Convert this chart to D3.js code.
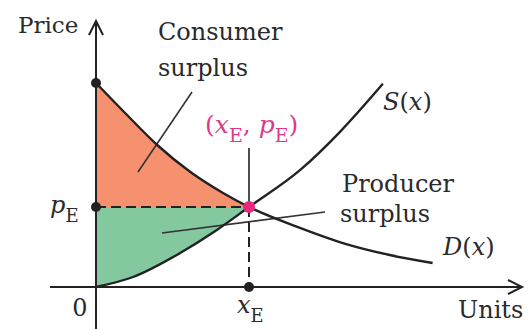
<!DOCTYPE html>
<html>
<head>
<meta charset="utf-8">
<script src="https://cdn.jsdelivr.net/npm/d3@7"></script>
<style>
  html, body { margin: 0; padding: 0; background: #fff; }
  svg { display: block; }
  text { font-family: "DejaVu Serif", "Liberation Serif", serif; fill: #2a2a2a; }
</style>
</head>
<body>
<svg id="chart" width="529" height="329"></svg>
<script>
// ---- data (economic units) ----
const demandX = [0, 1.9, 4.0, 6.15, 8.3, 10, 13.33, 16.3, 19.2, 22.0];
const demandY = [25.5, 21.75, 17.75, 14.4, 11.75, 10, 7.4, 5.4, 4.0, 3.0];
const supplyX = [0, 2.42, 5.5, 7.8, 10, 13.33, 15.95, 18.75];
const supplyY = [0, 1.25, 4.25, 7.0, 10, 14.6, 19.4, 25.4];
const equilibrium = { x: 10, p: 10 };
const axisLabels = { y: "Price", x: "Units", origin: "0" };

// ---- scales ----
const svg = d3.select("#chart");
const x = d3.scaleLinear().domain([0, 10]).range([96, 249]);
const y = d3.scaleLinear().domain([0, 10]).range([287, 207]);

const demand = demandX.map((d, i) => [d, demandY[i]]);
const supply = supplyX.map((d, i) => [d, supplyY[i]]);
const curve = d3.curveMonotoneX;

const demandLeft = demand.filter(d => d[0] <= equilibrium.x);
const supplyLeft = supply.filter(d => d[0] <= equilibrium.x);

svg.append("path")
  .attr("d", d3.area().x(d => x(d[0])).y0(y(equilibrium.p)).y1(d => y(d[1])).curve(curve)(demandLeft))
  .attr("fill", "#f5916e");
svg.append("path")
  .attr("d", d3.area().x(d => x(d[0])).y0(y(equilibrium.p)).y1(d => y(d[1])).curve(curve)(supplyLeft))
  .attr("fill", "#84c8a0");

// dashed guide lines
const dark = "#222";
svg.append("line")
  .attr("x1", x(0)).attr("x2", x(equilibrium.x))
  .attr("y1", y(equilibrium.p)).attr("y2", y(equilibrium.p))
  .attr("stroke", dark).attr("stroke-width", 2).attr("stroke-dasharray", "10,5");
svg.append("line")
  .attr("x1", x(equilibrium.x)).attr("x2", x(equilibrium.x))
  .attr("y1", y(equilibrium.p)).attr("y2", y(0))
  .attr("stroke", dark).attr("stroke-width", 2).attr("stroke-dasharray", "10,5");
svg.append("line")
  .attr("x1", x(equilibrium.x)).attr("x2", x(equilibrium.x))
  .attr("y1", 148).attr("y2", y(equilibrium.p))
  .attr("stroke", dark).attr("stroke-width", 1.6);

// leader lines
svg.append("line").attr("x1", 192).attr("y1", 92).attr("x2", 138).attr("y2", 172)
  .attr("stroke", "#333").attr("stroke-width", 1.6);
svg.append("line").attr("x1", 325).attr("y1", 212).attr("x2", 162).attr("y2", 233)
  .attr("stroke", "#333").attr("stroke-width", 1.6);

// axes
const axisG = svg.append("g").attr("stroke", dark).attr("stroke-width", 2).attr("fill", "none");
axisG.append("line").attr("x1", 50).attr("x2", 522).attr("y1", y(0)).attr("y2", y(0));
axisG.append("path").attr("d", `M${522 - 14},${y(0) - 7}L522,${y(0)}L${522 - 14},${y(0) + 7}`);
axisG.append("line").attr("x1", x(0)).attr("x2", x(0)).attr("y1", 21).attr("y2", 329);
axisG.append("path").attr("d", `M${x(0) - 7},35L${x(0)},21L${x(0) + 7},35`);

// curves
const line = d3.line().x(d => x(d[0])).y(d => y(d[1])).curve(curve);
svg.append("path").attr("d", line(demand)).attr("fill", "none").attr("stroke", dark).attr("stroke-width", 2.4);
svg.append("path").attr("d", line(supply)).attr("fill", "none").attr("stroke", dark).attr("stroke-width", 2.4);

// points
svg.append("circle").attr("cx", x(0)).attr("cy", y(demandY[0])).attr("r", 5).attr("fill", dark);
svg.append("circle").attr("cx", x(0)).attr("cy", y(equilibrium.p)).attr("r", 5).attr("fill", dark);
svg.append("circle").attr("cx", x(equilibrium.x)).attr("cy", y(0)).attr("r", 5).attr("fill", dark);
svg.append("circle").attr("cx", x(equilibrium.x)).attr("cy", y(equilibrium.p)).attr("r", 6).attr("fill", "#e8297f");

// text
const fs = 24;
svg.append("text").attr("x", 18).attr("y", 33).attr("font-size", 23).text(axisLabels.y);
svg.append("text").attr("x", 458).attr("y", 318).attr("font-size", fs).text(axisLabels.x);
svg.append("text").attr("x", 80).attr("y", 316).attr("font-size", fs).attr("text-anchor", "middle").text(axisLabels.origin);

svg.append("text").attr("x", 158).attr("y", 40).attr("font-size", fs).text("Consumer");
svg.append("text").attr("x", 158).attr("y", 76).attr("font-size", fs).text("surplus");
svg.append("text").attr("x", 342).attr("y", 192).attr("font-size", fs).text("Producer");
svg.append("text").attr("x", 340).attr("y", 222).attr("font-size", fs).text("surplus");

function fnLabel(xp, yp, letter) {
  const t = svg.append("text").attr("x", xp).attr("y", yp).attr("font-size", fs);
  t.append("tspan").attr("font-style", "italic").text(letter);
  t.append("tspan").text("(");
  t.append("tspan").attr("font-style", "italic").text("x");
  t.append("tspan").text(")");
}
fnLabel(383, 110, "S");
fnLabel(443, 255, "D");

function subLabel(xp, yp, letter, color) {
  const t = svg.append("text").attr("x", xp).attr("y", yp).attr("font-size", fs);
  if (color) t.style("fill", color);
  t.append("tspan").attr("font-style", "italic").text(letter);
  t.append("tspan").attr("font-size", 18).attr("dy", 9).text("E");
  return t;
}
subLabel(50, 213, "p");
subLabel(237, 313, "x");

const eq = svg.append("text").attr("x", 205).attr("y", 133).attr("font-size", 25).style("fill", "#dc3a8c");
eq.append("tspan").text("(");
eq.append("tspan").attr("font-style", "italic").text("x");
eq.append("tspan").attr("font-size", 19).attr("dy", 9).text("E");
eq.append("tspan").attr("dy", -9).text(", ");
eq.append("tspan").attr("font-style", "italic").text("p");
eq.append("tspan").attr("font-size", 19).attr("dy", 9).text("E");
eq.append("tspan").attr("dy", -9).text(")");
</script>
</body>
</html>
